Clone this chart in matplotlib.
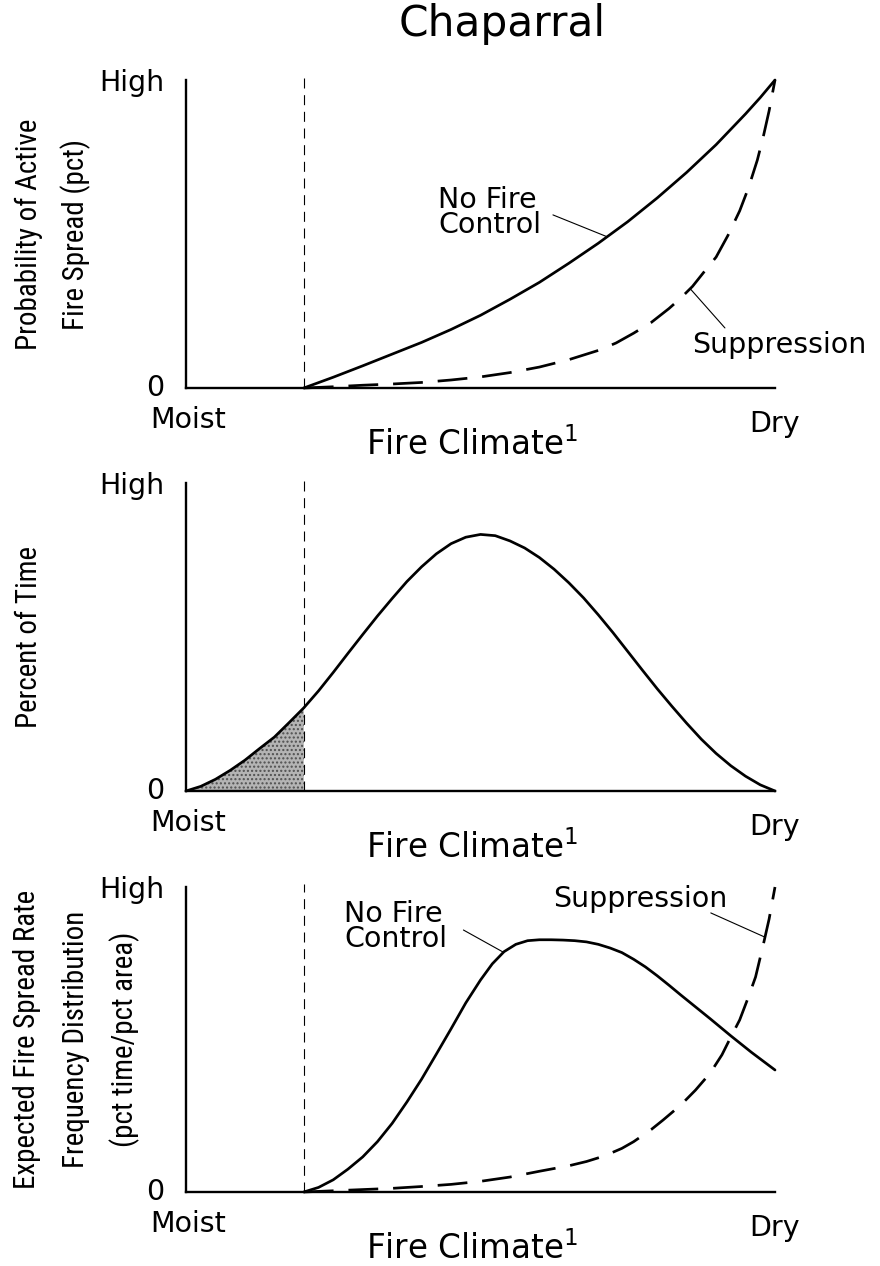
import matplotlib
matplotlib.use("Agg")
import matplotlib.pyplot as plt
import matplotlib.font_manager as fm
import numpy as np

# ---------------- data (normalized: 0 = Moist / 0, 1 = Dry / High) ----------------
threshold_x = 0.20

# Panel 1: probability of active fire spread
p1_nofire_x = [0.20, 0.25, 0.30, 0.35, 0.40, 0.45, 0.50, 0.55, 0.60, 0.65, 0.70, 0.75, 0.80,
               0.85, 0.875, 0.90, 0.925, 0.95, 0.975, 1.00]
p1_nofire_y = [0.00, 0.035, 0.072, 0.110, 0.148, 0.190, 0.236, 0.288, 0.343, 0.405, 0.470, 0.540, 0.617,
               0.700, 0.745, 0.790, 0.840, 0.890, 0.943, 1.00]
p1_supp_x = [0.20, 0.25, 0.30, 0.35, 0.40, 0.45, 0.50, 0.55, 0.60, 0.65, 0.70, 0.73, 0.76, 0.79, 0.82,
             0.84, 0.86, 0.88, 0.90, 0.92, 0.94, 0.955, 0.97, 0.98, 0.99, 1.00]
p1_supp_y = [0.00, 0.004, 0.009, 0.013, 0.018, 0.026, 0.036, 0.050, 0.068, 0.092, 0.122, 0.146, 0.178,
             0.213, 0.258, 0.292, 0.330, 0.378, 0.425, 0.495, 0.575, 0.650, 0.740, 0.815, 0.900, 1.00]

# Panel 2: percent of time
p2_x = [0.000, 0.025, 0.050, 0.075, 0.100, 0.125, 0.150, 0.175, 0.200, 0.225, 0.250, 0.275, 0.300,
        0.325, 0.350, 0.375, 0.400, 0.425, 0.450, 0.475, 0.500, 0.525, 0.550, 0.575, 0.600, 0.625,
        0.650, 0.675, 0.700, 0.725, 0.750, 0.775, 0.800, 0.825, 0.850, 0.875, 0.900, 0.925, 0.950,
        0.975, 1.000]
p2_y = [0.000, 0.015, 0.038, 0.067, 0.100, 0.138, 0.175, 0.222, 0.270, 0.325, 0.385, 0.447, 0.508,
        0.568, 0.625, 0.680, 0.728, 0.770, 0.803, 0.824, 0.833, 0.829, 0.812, 0.789, 0.758, 0.720,
        0.676, 0.627, 0.572, 0.514, 0.453, 0.392, 0.332, 0.275, 0.220, 0.168, 0.122, 0.082, 0.048,
        0.020, 0.000]

# Panel 3: expected fire spread rate frequency distribution
p3_nofire_x = [0.200, 0.225, 0.250, 0.275, 0.300, 0.325, 0.350, 0.375, 0.400, 0.425, 0.450, 0.475,
               0.500, 0.520, 0.540, 0.560, 0.580, 0.600, 0.620, 0.640, 0.660, 0.680, 0.700, 0.720,
               0.740, 0.760, 0.780, 0.800, 0.820, 0.840, 0.865, 0.890, 0.925, 0.960, 1.000]
p3_nofire_y = [0.000, 0.015, 0.040, 0.075, 0.115, 0.165, 0.225, 0.295, 0.370, 0.452, 0.535, 0.620,
               0.695, 0.748, 0.788, 0.812, 0.824, 0.827, 0.827, 0.826, 0.824, 0.820, 0.812, 0.800,
               0.785, 0.763, 0.738, 0.709, 0.678, 0.646, 0.607, 0.568, 0.512, 0.458, 0.400]
p3_supp_x = [0.20, 0.25, 0.30, 0.35, 0.40, 0.45, 0.50, 0.55, 0.60, 0.65, 0.68, 0.71, 0.74, 0.76, 0.79,
             0.81, 0.84, 0.865, 0.89, 0.91, 0.925, 0.94, 0.955, 0.967, 0.98, 0.99, 1.00]
p3_supp_y = [0.00, 0.004, 0.008, 0.012, 0.018, 0.025, 0.035, 0.049, 0.068, 0.086, 0.100, 0.118, 0.143,
             0.165, 0.205, 0.236, 0.285, 0.334, 0.390, 0.450, 0.508, 0.564, 0.640, 0.705, 0.810,
             0.895, 1.00]

title = "Chaparral"
x_labels = ["Moist", "Dry"]
y_ticks = ["0", "High"]
x_title = "Fire Climate$^{1}$"
curve_label_nofire = "No Fire\nControl"
curve_label_supp = "Suppression"
y_titles = [["Probability of Active", "Fire Spread (pct)"],
            ["Percent of Time"],
            ["Expected Fire Spread Rate", "Frequency Distribution", "(pct time/pct area)"]]

# ---------------- fonts ----------------
HFONT = "DejaVu Sans"
_fonts = fm.fontManager.ttflist
_names = {f.name for f in _fonts}
vprops = None
for cand in ["Liberation Sans Narrow", "Roboto Condensed", "Open Sans Condensed"]:
    if cand in _names:
        vprops = dict(family=cand)
        break
if vprops is None:
    for f in _fonts:
        if f.name in ("DejaVu Sans", "Noto Sans", "Open Sans", "Roboto") and \
                str(f.stretch) in ("condensed", "semi-condensed", "extra-condensed") and \
                f.style == "normal" and f.weight in (400, "normal", "regular"):
            vprops = dict(family=f.name, stretch=f.stretch)
            break
if vprops is None:
    vprops = dict(family="Liberation Sans")

# ---------------- layout ----------------
W, H = 880, 1266
fig = plt.figure(figsize=(W / 100, H / 100), dpi=100)
L, R = 186, 775
panels = [(80, 388), (483, 791), (887, 1192)]

SMALL = 20.5
XT = 23.5
EM = SMALL * 100 / 72.0          # em size in pixels
ASC_L = 0.76 * EM                # height of "l" above baseline (DejaVu Sans)


def ftext(px, py, s, **kw):
    return fig.text(px / W, 1 - py / H, s, **kw)


def two_line(px, first_baseline, s):
    # multi-line label, top-anchored so that the first baseline lands where wanted
    return ftext(px, first_baseline - ASC_L, s, ha="left", va="top", fontsize=SMALL,
                 family=HFONT, linespacing=0.86)


axes = []
for top, bot in panels:
    ax = fig.add_axes([L / W, 1 - bot / H, (R - L) / W, (bot - top) / H])
    ax.set_xlim(0, 1)
    ax.set_ylim(0, 1)
    for s in ("top", "right"):
        ax.spines[s].set_visible(False)
    for s in ("left", "bottom"):
        ax.spines[s].set_linewidth(1.7)
    ax.set_xticks([])
    ax.set_yticks([])
    ax.patch.set_alpha(0)
    ax.plot([threshold_x, threshold_x], [0, 1.01], color="k", lw=0.8,
            ls=(0, (9, 6)), clip_on=False)
    axes.append(ax)

    ftext(164, top + 11, y_ticks[1], ha="right", va="baseline", fontsize=SMALL, family=HFONT)
    ftext(164, bot + 8, y_ticks[0], ha="right", va="baseline", fontsize=SMALL, family=HFONT)
    ftext(188, bot + 40, x_labels[0], ha="center", va="baseline", fontsize=SMALL, family=HFONT)
    ftext(775, bot + 44, x_labels[1], ha="center", va="baseline", fontsize=SMALL, family=HFONT)
    ftext(472, bot + 67, x_title, ha="center", va="baseline", fontsize=XT, family=HFONT)

solid_kw = dict(color="k", lw=1.95, solid_capstyle="round", solid_joinstyle="round", clip_on=False)
dash_kw = dict(color="k", lw=1.95, ls=(0, (11, 5.5)), clip_on=False)
lead_kw = dict(arrowstyle="-", lw=0.8, color="k", shrinkA=0, shrinkB=0)

# Panel 1
ax1 = axes[0]
ax1.plot(p1_nofire_x, p1_nofire_y, **solid_kw)
ax1.plot(p1_supp_x, p1_supp_y, **dash_kw)
ax1.annotate("", xy=(0.715, np.interp(0.715, p1_nofire_x, p1_nofire_y)), xytext=(0.623, 0.562),
             arrowprops=lead_kw)
ax1.annotate("", xy=(0.856, np.interp(0.856, p1_supp_x, p1_supp_y)), xytext=(0.915, 0.195),
             arrowprops=lead_kw)
two_line(438, 208, curve_label_nofire)
ftext(692, 353, curve_label_supp, ha="left", va="baseline", fontsize=SMALL, family=HFONT)

# Panel 2
ax2 = axes[1]
p2x = np.array(p2_x)
p2y = np.array(p2_y)
mask = p2x <= threshold_x + 1e-9
ax2.fill_between(p2x[mask], 0, p2y[mask], facecolor="#b4b4b4", edgecolor="#505050",
                 hatch="....", linewidth=0)
ax2.plot(p2_x, p2_y, **solid_kw)

# Panel 3
ax3 = axes[2]
ax3.plot(p3_nofire_x, p3_nofire_y, **solid_kw)
ax3.plot(p3_supp_x, p3_supp_y, **dash_kw)
ax3.annotate("", xy=(0.539, np.interp(0.539, p3_nofire_x, p3_nofire_y)), xytext=(0.471, 0.859),
             arrowprops=lead_kw)
ax3.annotate("", xy=(0.983, np.interp(0.983, p3_supp_x, p3_supp_y)), xytext=(0.891, 0.915),
             arrowprops=lead_kw)
two_line(344, 922, curve_label_nofire)
ftext(553, 907, curve_label_supp, ha="left", va="baseline", fontsize=SMALL, family=HFONT)

# y-axis titles: size fitted so that "Probability of Active" spans ~230 px
renderer = fig.canvas.get_renderer()
probe = fig.text(0, 0, y_titles[0][0], rotation=90, fontsize=20, **vprops)
length = probe.get_window_extent(renderer).height
probe.remove()
vsize = 20 * 230.0 / length

baselines = [[37, 84], [37], [35, 84, 133]]
for (top, bot), lines, bxs in zip(panels, y_titles, baselines):
    cy = (top + bot) / 2
    for s, bx in zip(lines, bxs):
        ftext(bx, cy, s, rotation=90, rotation_mode="anchor", ha="center", va="baseline",
              fontsize=vsize, **vprops)

# title
ftext(502, 36, title, ha="center", va="baseline", fontsize=30.5, family=HFONT)

fig.savefig("out.png", dpi=100)
